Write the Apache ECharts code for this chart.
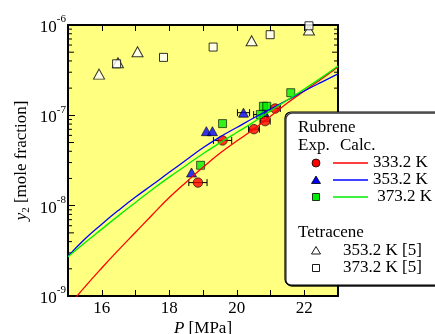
<!DOCTYPE html>
<html>
<head>
<meta charset="utf-8">
<script src="https://cdn.jsdelivr.net/npm/echarts@6/dist/echarts.min.js"></script>
<style>
html,body{margin:0;padding:0;background:#fff;}
#chart{width:435px;height:334px;}
</style>
</head>
<body>
<div id="chart"></div>
<script>
// ---- data ----
// calculated curves (P in MPa, y2 mole fraction)
const calcP = [15, 15.5, 16, 16.5, 17, 17.5, 18, 18.5, 19, 19.5, 20, 20.5, 21, 21.5, 22, 22.5, 23];
const calc333 = [7.59e-10, 1.26e-9, 2.04e-9, 3.24e-9, 5.07e-9, 7.94e-9, 1.23e-8, 1.82e-8, 2.66e-8, 3.80e-8, 5.19e-8, 7.00e-8, 9.77e-8, 1.37e-7, 1.86e-7, 2.51e-7, 3.43e-7];
const calc353 = [2.75e-9, 4.27e-9, 6.24e-9, 8.91e-9, 1.245e-8, 1.70e-8, 2.34e-8, 3.20e-8, 4.37e-8, 5.75e-8, 7.33e-8, 9.33e-8, 1.175e-7, 1.48e-7, 1.86e-7, 2.32e-7, 2.88e-7];
const calc373 = [2.72e-9, 3.89e-9, 5.50e-9, 7.76e-9, 1.084e-8, 1.51e-8, 2.07e-8, 2.79e-8, 3.76e-8, 4.95e-8, 6.46e-8, 8.41e-8, 1.12e-7, 1.48e-7, 1.95e-7, 2.60e-7, 3.51e-7];

// rubrene experimental
const exp333P = [18.85, 19.58, 20.51, 20.84, 21.14];
const exp333Y = [1.80e-8, 5.27e-8, 7.03e-8, 8.63e-8, 1.19e-7];
const exp333Err = [0.27, 0.27, 0.16, 0.15, 0.15];
const exp353P = [18.66, 19.10, 19.28, 20.20, 20.81];
const exp353Y = [2.33e-8, 6.68e-8, 6.68e-8, 1.07e-7, 1.085e-7];
const exp353Err = [0, 0, 0, 0.18, 0];
const exp373P = [18.93, 19.58, 20.70, 20.79, 20.89, 21.60];
const exp373Y = [2.80e-8, 8.10e-8, 1.02e-7, 1.26e-7, 1.26e-7, 1.78e-7];
const exp373Err = [0, 0, 0.2, 0, 0, 0];

// tetracene literature [5]
const tet353P = [15.92, 16.48, 17.06, 20.44, 22.14];
const tet353Y = [2.86e-7, 3.82e-7, 5.06e-7, 6.70e-7, 8.8e-7];
const tet373P = [16.44, 17.83, 19.30, 20.99, 22.14];
const tet373Y = [3.72e-7, 4.38e-7, 5.70e-7, 7.81e-7, 9.8e-7];

// axis ticks
const xMin = 15, xMax = 23, xStep = 1;
const yMin = 1e-9, yMax = 1e-6;
const yMinorTicks = [];
[-9, -8, -7].forEach(function (e) { for (let m = 2; m <= 9; m++) yMinorTicks.push(m * Math.pow(10, e)); });

// legend texts
const legendTitle1 = 'Rubrene';
const legendHead = ['Exp.', 'Calc.'];
const legendRub = ['333.2 K', '353.2 K', ' 373.2 K'];
const legendTitle2 = 'Tetracene';
const legendTet = ['353.2 K [5]', '373.2 K [5]'];

// ---- chart ----
const FONT = 'Liberation Serif';
const FS = 17;
const zip = (a, b) => a.map((v, i) => [v, b[i]]);
const zip3 = (a, b, c) => a.map((v, i) => [v, b[i], c[i]]);

const chart = echarts.init(document.getElementById('chart'), null, { renderer: 'canvas' });

function errRender(params, api) {
  const err = api.value(2);
  if (!err) return null;
  const y = api.value(1);
  const l = api.coord([api.value(0) - err, y]);
  const r = api.coord([api.value(0) + err, y]);
  const st = { stroke: '#000', lineWidth: 1 };
  return {
    type: 'group',
    children: [
      { type: 'line', shape: { x1: l[0], y1: l[1], x2: r[0], y2: r[1] }, style: st },
      { type: 'line', shape: { x1: l[0], y1: l[1] - 3.5, x2: l[0], y2: l[1] + 3.5 }, style: st },
      { type: 'line', shape: { x1: r[0], y1: r[1] - 3.5, x2: r[0], y2: r[1] + 3.5 }, style: st }
    ]
  };
}

function minorRender(params, api) {
  const v = api.value(1);
  const m = Math.round(v / Math.pow(10, Math.floor(Math.log10(v) + 1e-9)));
  const len = m === 5 ? 6 : 4;
  const a = api.coord([xMin, v]);
  const b = api.coord([xMax, v]);
  const st = { stroke: '#000', lineWidth: 1 };
  return {
    type: 'group',
    children: [
      { type: 'line', shape: { x1: a[0], y1: a[1], x2: a[0] + len, y2: a[1] }, style: st },
      { type: 'line', shape: { x1: b[0], y1: b[1], x2: b[0] - len, y2: b[1] }, style: st }
    ]
  };
}

const axisLineStyle = { lineStyle: { color: '#000', width: 2 } };

const yLabelFmt = function (v) {
  const e = Math.round(Math.log10(v));
  return '{b|10}{s|' + e + '}';
};

// legend graphic
const LX = 285, LY = 112;
const g = [];
g.push({ type: 'rect', shape: { x: LX, y: LY, width: 165, height: 173, r: 6 },
  style: { fill: '#fff', stroke: '#000', lineWidth: 1.2, shadowColor: 'rgba(0,0,0,0.8)', shadowOffsetX: 1, shadowOffsetY: 1.2, shadowBlur: 0 }, z: 100 });
const tStyle = (txt, x, y) => ({ type: 'text', x: x, y: y, z: 101,
  style: { text: txt, fill: '#000', font: FS + 'px "' + FONT + '"', textVerticalAlign: 'middle', textAlign: 'left' } });
g.push(tStyle(legendTitle1, 298, 128));
g.push(tStyle(legendHead[0], 298, 146));
g.push(tStyle(legendHead[1], 340, 146));
const rowY = [163, 180, 197];
const rowCol = ['#ff0000', '#0000ff', '#00ee00'];
g.push({ type: 'circle', z: 101, shape: { cx: 316, cy: rowY[0], r: 4 }, style: { fill: rowCol[0], stroke: '#000', lineWidth: 0.8 } });
g.push({ type: 'polygon', z: 101, shape: { points: [[316, rowY[1] - 4], [320.5, rowY[1] + 3.5], [311.5, rowY[1] + 3.5]] }, style: { fill: rowCol[1], stroke: '#000', lineWidth: 0.8 } });
g.push({ type: 'rect', z: 101, shape: { x: 312.5, y: rowY[2] - 3.5, width: 7, height: 7 }, style: { fill: rowCol[2], stroke: '#000', lineWidth: 0.8 } });
for (let i = 0; i < 3; i++) {
  g.push({ type: 'line', z: 101, shape: { x1: 333, y1: rowY[i], x2: 368, y2: rowY[i] }, style: { stroke: rowCol[i], lineWidth: 1.3 } });
  g.push(tStyle(legendRub[i], 373, rowY[i]));
}
g.push(tStyle(legendTitle2, 298, 233));
g.push({ type: 'polygon', z: 101, shape: { points: [[316, 246.5], [320.5, 254], [311.5, 254]] }, style: { fill: '#fff', stroke: '#000', lineWidth: 0.9 } });
g.push({ type: 'rect', z: 101, shape: { x: 312.5, y: 264.5, width: 7, height: 7 }, style: { fill: '#fff', stroke: '#000', lineWidth: 0.9 } });
g.push(tStyle(legendTet[0], 343, 251));
g.push(tStyle(legendTet[1], 343, 268));

const lineCommon = { type: 'line', showSymbol: false, smooth: 0.5, clip: true, silent: true };

const option = {
  animation: false,
  backgroundColor: '#fff',
  textStyle: { fontFamily: FONT },
  grid: { left: 68, right: 97, top: 25, bottom: 38, show: true, backgroundColor: '#ffff80', borderWidth: 0,
    containLabel: false, outerBoundsMode: 'none' },
  xAxis: [
    {
      type: 'value', min: xMin, max: xMax, interval: xStep, position: 'bottom',
      axisLine: axisLineStyle,
      axisTick: { inside: true, length: 6, lineStyle: { color: '#000', width: 1 } },
      splitLine: { show: false },
      axisLabel: { color: '#000', fontFamily: FONT, fontSize: FS, margin: 4,
        formatter: function (v) { return (v % 2 === 0 && v > xMin && v < xMax) ? String(v) : ''; } },
      name: '{i|P}{n| [MPa]}', nameLocation: 'middle', nameGap: 24, nameMoveOverlap: false,
      nameTextStyle: { rich: { i: { fontFamily: FONT, fontSize: FS, fontStyle: 'italic', color: '#000' }, n: { fontFamily: FONT, fontSize: FS, color: '#000' } } }
    },
    {
      type: 'value', min: xMin, max: xMax, interval: xStep, position: 'top',
      axisLine: axisLineStyle,
      axisTick: { inside: true, length: 6, lineStyle: { color: '#000', width: 1 } },
      splitLine: { show: false }, axisLabel: { show: false }
    }
  ],
  yAxis: [
    {
      type: 'log', logBase: 10, min: yMin, max: yMax, position: 'left',
      axisLine: axisLineStyle,
      axisTick: { inside: true, length: 7, lineStyle: { color: '#000', width: 1 } },
      splitLine: { show: false },
      axisLabel: { color: '#000', margin: 2, formatter: yLabelFmt,
        rich: { b: { fontFamily: FONT, fontSize: FS, lineHeight: 22, verticalAlign: 'bottom', color: '#000' },
                s: { fontFamily: FONT, fontSize: 11, lineHeight: 11, verticalAlign: 'top', color: '#000' } } },
      name: '{i|y}{sub|2}{n| [mole fraction]}', nameLocation: 'middle', nameGap: 36, nameMoveOverlap: false,
      nameTextStyle: { rich: {
        i: { fontFamily: FONT, fontSize: FS, fontStyle: 'italic', color: '#000', lineHeight: 20, verticalAlign: 'middle' },
        sub: { fontFamily: FONT, fontSize: 11, color: '#000', lineHeight: 11, verticalAlign: 'bottom' },
        n: { fontFamily: FONT, fontSize: FS, color: '#000', lineHeight: 20, verticalAlign: 'middle' } } }
    },
    {
      type: 'log', logBase: 10, min: yMin, max: yMax, position: 'right',
      axisLine: axisLineStyle,
      axisTick: { inside: true, length: 7, lineStyle: { color: '#000', width: 1 } },
      splitLine: { show: false }, axisLabel: { show: false }
    }
  ],
  series: [
    { type: 'custom', renderItem: minorRender, data: yMinorTicks.map(v => [xMin, v]), clip: false, silent: true },
    Object.assign({}, lineCommon, { data: zip(calcP, calc333), lineStyle: { color: '#ff0000', width: 1.3 } }),
    Object.assign({}, lineCommon, { data: zip(calcP, calc353), lineStyle: { color: '#0000ff', width: 1.3 } }),
    Object.assign({}, lineCommon, { data: zip(calcP, calc373), lineStyle: { color: '#00ee00', width: 1.3 } }),
    { type: 'custom', renderItem: errRender, data: zip3(exp353P, exp353Y, exp353Err), clip: false, silent: true },
    { type: 'custom', renderItem: errRender, data: zip3(exp373P, exp373Y, exp373Err), clip: false, silent: true },
    { type: 'custom', renderItem: errRender, data: zip3(exp333P, exp333Y, exp333Err), clip: false, silent: true },
    { type: 'scatter', data: zip(tet353P, tet353Y), symbol: 'triangle', symbolSize: [11, 10], itemStyle: { color: '#fff', borderColor: '#000', borderWidth: 1 }, silent: true },
    { type: 'scatter', data: zip(tet373P, tet373Y), symbol: 'rect', symbolSize: 8, itemStyle: { color: '#fff', borderColor: '#000', borderWidth: 1 }, silent: true },
    { type: 'scatter', data: zip(exp353P, exp353Y), symbol: 'triangle', symbolSize: [10, 9], itemStyle: { color: '#0000ff', borderColor: '#000', borderWidth: 0.8 }, silent: true },
    { type: 'scatter', data: zip(exp373P, exp373Y), symbol: 'rect', symbolSize: 8, itemStyle: { color: '#00ee00', borderColor: '#000', borderWidth: 0.8 }, silent: true },
    { type: 'scatter', data: zip(exp333P, exp333Y), symbol: 'circle', symbolSize: 9.5, itemStyle: { color: '#ff0000', borderColor: '#000', borderWidth: 0.8 }, silent: true }
  ],
  graphic: g
};
chart.setOption(option);
</script>
</body>
</html>
